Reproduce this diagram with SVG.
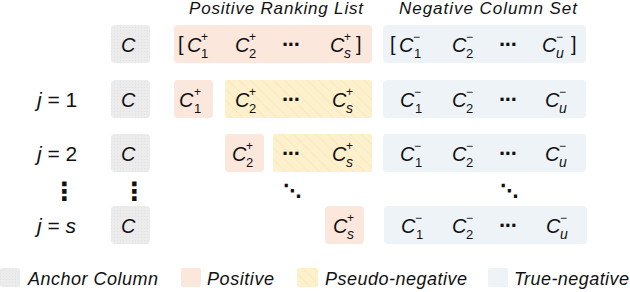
<svg xmlns="http://www.w3.org/2000/svg" width="630" height="292" viewBox="0 0 630 292">
<defs>
<pattern id="dots" width="3" height="3" patternUnits="userSpaceOnUse"><rect width="3" height="3" fill="#ececec"/><rect width="1" height="1" fill="#e2e2e2"/></pattern>
<pattern id="hatch" width="8" height="8" patternUnits="userSpaceOnUse" patternTransform="rotate(-45)"><rect width="8" height="8" fill="#fdf0cc"/><line x1="0" y1="0" x2="0" y2="8" stroke="#fbe9bd" stroke-width="2"/></pattern>
</defs>
<style>
text{font-family:"Liberation Sans",Arial,sans-serif;fill:#111}
.c{font-size:20px;font-style:italic}
.sp{font-size:12px}
.sb{font-size:13px}
.si{font-size:14px;font-style:italic}
.br{font-size:20px}
.dt{font-size:22px;font-weight:bold;letter-spacing:-1.5px}
.vd{font-family:"DejaVu Sans",sans-serif;font-size:18px;font-weight:bold}
.vv{font-family:"DejaVu Sans",sans-serif;font-size:25px;font-weight:bold}
.hd{font-size:17px;font-style:italic}
.lg{font-size:18px;font-style:italic}
.lb{font-size:21px}
.anc{fill:url(#dots)}
.pos{fill:#fbe7dc}
.pse{fill:url(#hatch)}
.neg{fill:#eef3f8}
</style>

<g id="headers">
<text class="hd" x="189" y="14" textLength="174" lengthAdjust="spacing">Positive Ranking List</text>
<text class="hd" x="399" y="14" textLength="178" lengthAdjust="spacing">Negative Column Set</text>
</g>

<g id="row-labels">
<text class="lb" x="37" y="107"><tspan font-style="italic">j</tspan> = 1</text>
<text class="lb" x="37" y="161"><tspan font-style="italic">j</tspan> = 2</text>
<text class="lb" x="37" y="233"><tspan font-style="italic">j</tspan> = <tspan font-style="italic">s</tspan></text>
<text class="vv" x="52" y="200">⋮</text>
<text class="vv" x="122" y="200">⋮</text>
<text class="vd" x="283" y="197">⋱</text>
<text class="vd" x="500" y="197">⋱</text>
</g>

<!-- header row -->
<g id="anchor-0"><rect class="anc" x="111" y="25" width="39" height="38" rx="4"/><text class="c" x="121" y="52">C</text></g>
<g id="positive-list"><rect class="pos" x="174" y="25" width="198" height="38" rx="4"/>
<text class="br" x="178" y="51">[</text>
<text class="c" x="187" y="52">C</text><text class="sp" x="201" y="41">+</text><text class="sb" x="201" y="58">1</text>
<text class="c" x="235" y="52">C</text><text class="sp" x="249" y="41">+</text><text class="sb" x="249" y="58">2</text>
<text class="dt" x="282" y="52">···</text>
<text class="c" x="330" y="52">C</text><text class="sp" x="344" y="41">+</text><text class="si" x="344" y="58">s</text>
<text class="br" x="356" y="51">]</text>
</g>
<g id="negative-set"><rect class="neg" x="383" y="25" width="203" height="38" rx="4"/>
<text class="br" x="390" y="51">[</text>
<text class="c" x="399" y="52">C</text><text class="sp" x="413" y="41">−</text><text class="sb" x="414" y="58">1</text>
<text class="c" x="452" y="52">C</text><text class="sp" x="466" y="41">−</text><text class="sb" x="466" y="58">2</text>
<text class="dt" x="499" y="52">···</text>
<text class="c" x="542" y="52">C</text><text class="sp" x="556" y="41">−</text><text class="si" x="556" y="58">u</text>
<text class="br" x="571" y="51">]</text>
</g>

<!-- row j=1 -->
<g id="anchor-1"><rect class="anc" x="111" y="80" width="39" height="38" rx="4"/><text class="c" x="121" y="107">C</text></g>
<g id="pos-1"><rect class="pos" x="174" y="80" width="39" height="38" rx="4"/>
<text class="c" x="179" y="107">C</text><text class="sp" x="194" y="96">+</text><text class="sb" x="194" y="113">1</text></g>
<g id="pseudo-1"><rect class="pse" x="225" y="80" width="147" height="38" rx="2"/>
<text class="c" x="235" y="107">C</text><text class="sp" x="249" y="96">+</text><text class="sb" x="249" y="113">2</text>
<text class="dt" x="282" y="107">···</text>
<text class="c" x="332" y="107">C</text><text class="sp" x="346" y="96">+</text><text class="si" x="346" y="113">s</text></g>
<g id="neg-1"><rect class="neg" x="383" y="80" width="203" height="38" rx="4"/>
<text class="c" x="400" y="107">C</text><text class="sp" x="414" y="96">−</text><text class="sb" x="415" y="113">1</text>
<text class="c" x="452" y="107">C</text><text class="sp" x="466" y="96">−</text><text class="sb" x="466" y="113">2</text>
<text class="dt" x="499" y="107">···</text>
<text class="c" x="545" y="107">C</text><text class="sp" x="559" y="96">−</text><text class="si" x="559" y="113">u</text></g>

<!-- row j=2 -->
<g id="anchor-2"><rect class="anc" x="111" y="134" width="39" height="38" rx="4"/><text class="c" x="121" y="161">C</text></g>
<g id="pos-2"><rect class="pos" x="225" y="134" width="39" height="38" rx="4"/>
<text class="c" x="232" y="161">C</text><text class="sp" x="246" y="150">+</text><text class="sb" x="246" y="167">2</text></g>
<g id="pseudo-2"><rect class="pse" x="273" y="134" width="99" height="38" rx="2"/>
<text class="dt" x="282" y="161">···</text>
<text class="c" x="332" y="161">C</text><text class="sp" x="346" y="150">+</text><text class="si" x="346" y="167">s</text></g>
<g id="neg-2"><rect class="neg" x="383" y="134" width="203" height="38" rx="4"/>
<text class="c" x="400" y="161">C</text><text class="sp" x="414" y="150">−</text><text class="sb" x="415" y="167">1</text>
<text class="c" x="452" y="161">C</text><text class="sp" x="466" y="150">−</text><text class="sb" x="466" y="167">2</text>
<text class="dt" x="499" y="161">···</text>
<text class="c" x="545" y="161">C</text><text class="sp" x="559" y="150">−</text><text class="si" x="559" y="167">u</text></g>

<!-- row j=s -->
<g id="anchor-s"><rect class="anc" x="111" y="206" width="39" height="38" rx="4"/><text class="c" x="121" y="233">C</text></g>
<g id="pos-s"><rect class="pos" x="325" y="206" width="39" height="38" rx="4"/>
<text class="c" x="333" y="233">C</text><text class="sp" x="347" y="222">+</text><text class="si" x="347" y="239">s</text></g>
<g id="neg-s"><rect class="neg" x="384" y="206" width="203" height="38" rx="4"/>
<text class="c" x="401" y="233">C</text><text class="sp" x="415" y="222">−</text><text class="sb" x="416" y="239">1</text>
<text class="c" x="452" y="233">C</text><text class="sp" x="466" y="222">−</text><text class="sb" x="466" y="239">2</text>
<text class="dt" x="499" y="233">···</text>
<text class="c" x="546" y="233">C</text><text class="sp" x="560" y="222">−</text><text class="si" x="560" y="239">u</text></g>

<g id="connectors"></g>

<g id="legend">
<rect class="anc" x="0" y="268" width="20" height="19" rx="2"/>
<text class="lg" x="28" y="285" textLength="130" lengthAdjust="spacing">Anchor Column</text>
<rect class="pos" x="181" y="268" width="20" height="19" rx="2"/>
<text class="lg" x="207" y="285" textLength="67" lengthAdjust="spacing">Positive</text>
<rect class="pse" x="297" y="268" width="21" height="19" rx="2"/>
<text class="lg" x="325" y="285" textLength="142" lengthAdjust="spacing">Pseudo-negative</text>
<rect class="neg" x="488" y="268" width="20" height="19" rx="2"/>
<text class="lg" x="514" y="285" textLength="115" lengthAdjust="spacing">True-negative</text>
</g>
</svg>
